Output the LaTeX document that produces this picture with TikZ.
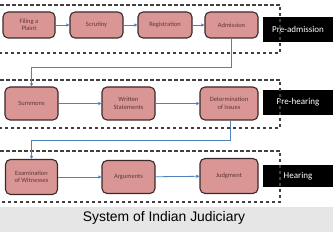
\documentclass[tikz,border=0pt]{standalone}
\usepackage{fontspec}
\setmainfont{Carlito}
\newfontfamily\capfont{Liberation Sans}
\usetikzlibrary{arrows.meta}
\definecolor{pinkfill}{HTML}{D99694}
\definecolor{pinkborder}{HTML}{3A2A2A}
\definecolor{pinktext}{HTML}{5E3838}
\definecolor{connblue}{HTML}{4F81BD}
\definecolor{dashgray}{HTML}{404040}
\definecolor{capbg}{HTML}{E6E6E6}
\tikzset{
  stepbox/.style={draw=pinkborder, line width=1.1pt, fill=pinkfill, rounded corners=5pt,
    text=pinktext, font=\fontsize{6.5}{7.5}\selectfont, align=center, inner sep=1pt},
  phasebox/.style={fill=black, text=white, font=\fontsize{9}{10}\selectfont,
    minimum width=70pt, inner sep=0pt},
  conn/.style={draw=connblue, line width=0.8pt, -{Triangle[length=3pt,width=3pt]}},
  sepline/.style={draw=dashgray, line width=1.1pt, dash pattern=on 3.5pt off 2.5pt},
}
\begin{document}
\begin{tikzpicture}[x=1pt,y=-1pt]
\useasboundingbox (0,0) rectangle (333,232);
\fill[capbg] (0,207) rectangle (333,232);
\node[font=\capfont\fontsize{13.9}{15}\selectfont] (cap) at (164,218) {System of Indian Judiciary};
% row 1
\node[stepbox, minimum width=52pt, minimum height=26pt] (fil) at (29,25) {Filing a\\Plaint};
\node[stepbox, minimum width=53pt, minimum height=26pt] (scr) at (96.5,25) {Scrutiny};
\node[stepbox, minimum width=54pt, minimum height=26pt] (reg) at (165,25) {Registration};
\node[stepbox, minimum width=53pt, minimum height=26pt] (adm) at (231.5,25) {Admission};
\node[phasebox, minimum height=25pt] (pa) at (298,29.5) {Pre-admission};
% row 2
\node[stepbox, minimum width=53pt, minimum height=33pt] (sum) at (31.5,103.5) {Summons};
\node[stepbox, minimum width=53pt, minimum height=33pt] (wri) at (128.5,103.5) {Written\\Statements};
\node[stepbox, minimum width=58pt, minimum height=33pt] (det) at (229,103.5) {Determination\\of Issues};
\node[phasebox, minimum height=25pt] (ph) at (298,102.5) {Pre-hearing};
% row 3
\node[stepbox, minimum width=52pt, minimum height=35pt] (exa) at (31.5,177) {Examination\\of Witnesses};
\node[stepbox, minimum width=53pt, minimum height=33pt] (arg) at (128.5,177) {Arguments};
\node[stepbox, minimum width=58pt, minimum height=35pt] (jud) at (229,176) {Judgment};
\node[phasebox, minimum height=22pt] (hea) at (298,176) {Hearing};
% dashed separators
\draw[sepline] (0,5) -- (280,5) -- (280,53) -- (0,53);
\draw[sepline] (0,80) -- (280,80) -- (280,128) -- (0,128);
\draw[sepline] (0,151) -- (280,151) -- (280,202) -- (0,202);
% connectors
\draw[conn] (fil) -- (scr);
\draw[conn] (scr) -- (reg);
\draw[conn] (reg) -- (adm);
\coordinate (k1) at (31.5,67);
\draw[conn] (adm.south) |- (k1) -- (sum.north);
\draw[conn] (sum) -- (wri);
\draw[conn] (wri) -- (det);
\coordinate (k2) at (31.5,140);
\draw[conn] ([xshift=1pt]det.south) |- (k2) -- (exa.north);
\draw[conn] (exa) -- (arg);
\draw[conn] (arg) -- (jud);
\end{tikzpicture}
\end{document}
